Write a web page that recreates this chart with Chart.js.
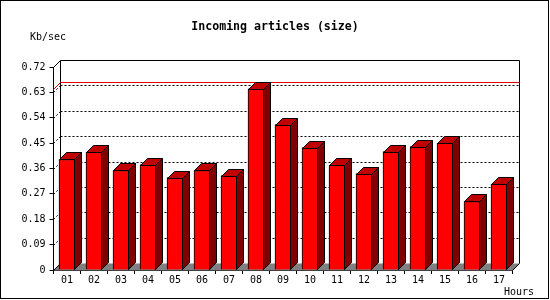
<!DOCTYPE html>
<html>
<head>
<meta charset="utf-8">
<style>
  body { margin: 0; background: #fff; }
  canvas { display: block; }
</style>
</head>
<body>
<canvas id="chart" width="550" height="300"></canvas>
<script src="https://cdn.jsdelivr.net/npm/chart.js@4/dist/chart.umd.min.js"></script>
<script>
    // data
    var hours = ['01', '02', '03', '04', '05', '06', '07', '08', '09',
                 '10', '11', '12', '13', '14', '15', '16', '17'];
    var kbPerSec = [0.392, 0.417, 0.353, 0.374, 0.328, 0.353, 0.335, 0.643, 0.516,
                    0.434, 0.371, 0.342, 0.420, 0.438, 0.449, 0.243, 0.304];
    var yTicks = [0, 0.09, 0.18, 0.27, 0.36, 0.45, 0.54, 0.63, 0.72];

    var titleText = 'Incoming articles (size)';
    var yUnit = 'Kb/sec';
    var xUnit = 'Hours';

    var MONO = '"DejaVu Sans Mono", "Liberation Mono", monospace';
    var D = 7; // depth of the fake 3d

    function poly(ctx, pts, fill) {
        ctx.beginPath();
        ctx.moveTo(pts[0][0], pts[0][1]);
        for (var i = 1; i < pts.length; i++) ctx.lineTo(pts[i][0], pts[i][1]);
        ctx.closePath();
        if (fill) { ctx.fillStyle = fill; ctx.fill(); }
        ctx.stroke();
    }

    const box3d = {
        id: 'box3d',
        beforeDraw(chart) {
            const ctx = chart.ctx;
            ctx.save();
            ctx.fillStyle = '#fff';
            ctx.fillRect(0, 0, chart.width, chart.height);
            ctx.strokeStyle = '#000';
            ctx.lineWidth = 1;
            ctx.strokeRect(0.5, 0.5, chart.width - 2, chart.height - 2);
            ctx.restore();
        },
        beforeDatasetsDraw(chart) {
            const ctx = chart.ctx, a = chart.chartArea, y = chart.scales.y;
            const L = Math.round(a.left - 0.5) + 0.5;
            const R = Math.round(a.right - 0.5) + 0.5;
            const B = Math.round(a.bottom - 0.5) + 0.5;
            const T = Math.round(a.top);
            ctx.save();
            ctx.lineWidth = 1;
            ctx.strokeStyle = '#000';

            // floor
            ctx.beginPath();
            ctx.moveTo(L, B); ctx.lineTo(R, B); ctx.lineTo(R + D, B - D); ctx.lineTo(L + D, B - D);
            ctx.closePath();
            ctx.fillStyle = '#808080';
            ctx.fill();
            ctx.beginPath();
            ctx.moveTo(L, B); ctx.lineTo(L + D, B - D);
            ctx.moveTo(R, B); ctx.lineTo(R + D, B - D);
            ctx.stroke();

            // back wall
            ctx.beginPath();
            ctx.moveTo(L + D, B - D);
            ctx.lineTo(L + D, T - D + 0.5);
            ctx.lineTo(R + D, T - D + 0.5);
            ctx.lineTo(R + D, B - D);
            ctx.moveTo(L, T + 0.5);
            ctx.lineTo(L + D, T - D + 0.5);
            ctx.stroke();

            // dotted grid on the back wall
            ctx.setLineDash([2, 2]);
            yTicks.forEach(function (v, i) {
                if (i === 0 || i === yTicks.length - 1) return;
                const yb = Math.round(y.getPixelForValue(v) - D) + 0.5;
                ctx.beginPath();
                ctx.moveTo(L + D, yb); ctx.lineTo(R + D, yb);
                ctx.moveTo(L, yb + D); ctx.lineTo(L + D, yb);
                ctx.stroke();
            });
            ctx.setLineDash([]);

            // max line
            const ym = Math.round(y.getPixelForValue(Math.max.apply(null, kbPerSec)) - D) + 0.5;
            ctx.strokeStyle = '#e00000';
            ctx.beginPath();
            ctx.moveTo(L, ym + D); ctx.lineTo(L + D, ym);
            ctx.lineTo(R + D, ym);
            ctx.stroke();
            ctx.restore();
        },
        afterDatasetsDraw(chart) {
            const ctx = chart.ctx;
            const meta = chart.getDatasetMeta(0);
            ctx.save();
            ctx.lineWidth = 1;
            ctx.strokeStyle = '#000';
            meta.data.forEach(function (bar) {
                const l = bar.x - bar.width / 2 + 0.5;
                const r = bar.x + bar.width / 2 - 0.5;
                const t = Math.round(bar.y) + 0.5;
                const b = bar.base;
                poly(ctx, [[l, t], [l + D, t - D], [r + D, t - D], [r, t]], '#c00000');
                poly(ctx, [[r, t], [r + D, t - D], [r + D, b - D], [r, b]], '#800000');
            });
            ctx.restore();
        },
        afterDraw(chart) {
            const ctx = chart.ctx;
            ctx.save();
            ctx.fillStyle = '#000';
            ctx.textBaseline = 'middle';
            ctx.font = 'bold 11.6px ' + MONO;
            ctx.textAlign = 'center';
            ctx.fillText(titleText, 275, 27);
            ctx.font = '10px ' + MONO;
            ctx.textAlign = 'left';
            ctx.fillText(yUnit, 30, 37);
            ctx.fillText(xUnit, 504, 292);
            ctx.restore();
        }
    };

    new Chart(document.getElementById('chart'), {
        type: 'bar',
        data: {
            labels: hours,
            datasets: [{
                data: kbPerSec,
                backgroundColor: '#ff0000',
                borderColor: '#000',
                borderWidth: 1,
                borderSkipped: 'start',
                barThickness: 16
            }]
        },
        options: {
            responsive: false,
            animation: false,
            devicePixelRatio: 1,
            layout: { padding: { top: 67, right: 37.5, bottom: 0, left: 0 } },
            plugins: {
                legend: { display: false },
                tooltip: { enabled: false }
            },
            scales: {
                x: {
                    afterFit: function (s) { s.height = 30; },
                    grid: { drawOnChartArea: false, drawTicks: true, tickLength: 4, color: '#000', offset: true },
                    border: { display: true, color: '#000', width: 1 },
                    ticks: { color: '#000', padding: 0, maxRotation: 0, font: { family: MONO, size: 10 } }
                },
                y: {
                    min: 0,
                    max: yTicks[yTicks.length - 1],
                    afterFit: function (s) { s.width = 53.5; },
                    afterBuildTicks: function (s) { s.ticks = yTicks.map(function (v) { return { value: v }; }); },
                    grid: { drawOnChartArea: false, drawTicks: true, tickLength: 4, color: '#000' },
                    border: { display: true, color: '#000', width: 1 },
                    ticks: {
                        color: '#000',
                        padding: 4,
                        font: { family: MONO, size: 10 },
                        callback: function (v) { return v === 0 ? '0' : v.toFixed(2); }
                    }
                }
            }
        },
        plugins: [box3d]
    });
</script>
</body>
</html>
